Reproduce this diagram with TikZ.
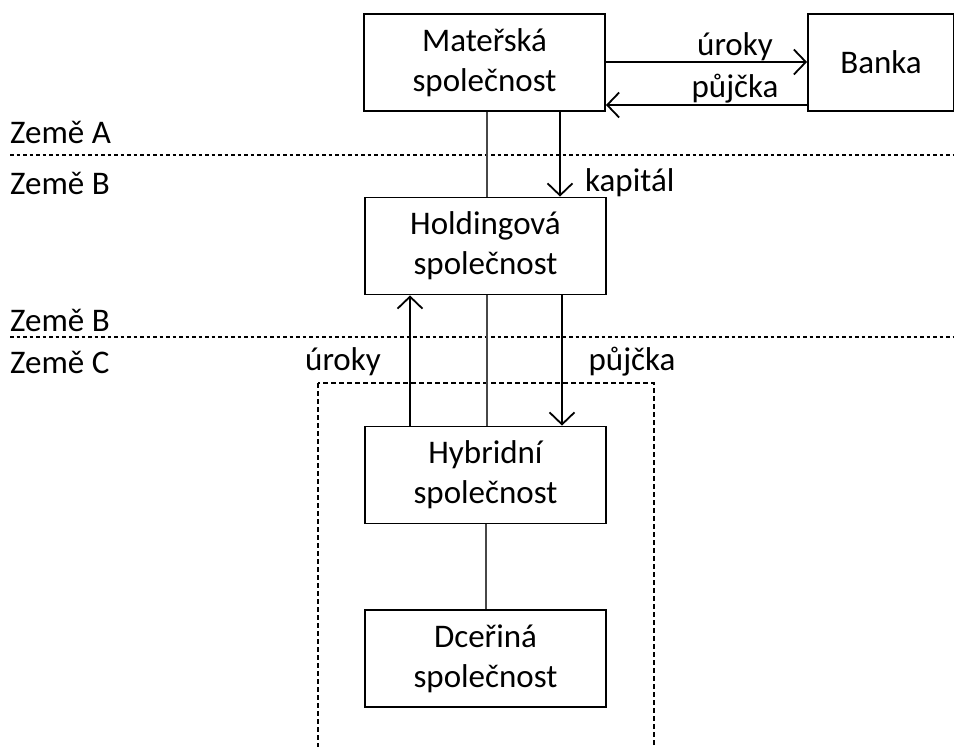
\documentclass[tikz,border=0pt]{standalone}
\usepackage{fontspec}
\setmainfont{Carlito}
\usetikzlibrary{arrows.meta}
\begin{document}
\begin{tikzpicture}[x=1pt,y=-1pt,
  box/.style={draw,line width=1.8pt,minimum width=241pt,minimum height=97pt,
    align=center,inner sep=0pt,font=\fontsize{33}{40}\selectfont},
  lbl/.style={font=\fontsize{33}{38}\selectfont,inner sep=0pt},
  flow/.style={line width=1.8pt,-{Straight Barb[length=12pt,width=25pt,line width=1.8pt]}},
  tie/.style={line width=2pt,draw=black!72},
  border/.style={line width=1.4pt,dash pattern=on 3.5pt off 3pt},
  frame/.style={line width=1.4pt,dash pattern=on 5pt off 3pt}]
  \useasboundingbox (0,0) rectangle (954,747);
  % country borders
  \coordinate (bAl) at (10,155); \coordinate (bAr) at (954,155);
  \coordinate (bBl) at (10,337); \coordinate (bBr) at (954,337);
  \draw[border] (bAl) -- (bAr);
  \draw[border] (bBl) -- (bBr);
  \node[lbl,anchor=west] (zA) at (10,132) {Země A};
  \node[lbl,anchor=west] (zB1) at (10,183) {Země B};
  \node[lbl,anchor=west] (zB2) at (10,320) {Země B};
  \node[lbl,anchor=west] (zC) at (10,362) {Země C};
  % entities
  \node[box] (mat) at (484.5,62.5) {Mateřská\\společnost};
  \node[box,minimum width=146pt] (bank) at (881,62.5) {Banka};
  \node[box] (hold) at (485.5,246) {Holdingová\\společnost};
  \node[box] (hyb) at (485.5,475) {Hybridní\\společnost};
  \node[box] (dcer) at (485.5,658.5) {Dceřiná\\společnost};
  % country C group
  \coordinate (gTL) at (318,383); \coordinate (gBR) at (654,760);
  \draw[frame] (gTL) rectangle (gBR);
  % flows with the bank
  \draw[flow] (mat.east |- 0,62) -- (bank.west |- 0,62);
  \draw[flow] (bank.west |- 0,105) -- (mat.east |- 0,105);
  \node[lbl] (lu1) at (735,47) {úroky};
  \node[lbl] (lp1) at (735,89) {půjčka};
  % parent to holding
  \draw[tie] (mat.south -| 487,0) -- (hold.north -| 487,0);
  \draw[flow] (mat.south -| 560,0) -- (hold.north -| 560,0);
  \node[lbl,anchor=west] (lk) at (585,183) {kapitál};
  % holding to hybrid
  \draw[flow] (hyb.north -| 410,0) -- (hold.south -| 410,0);
  \draw[tie] (hold.south -| 487,0) -- (hyb.north -| 487,0);
  \draw[flow] (hold.south -| 562,0) -- (hyb.north -| 562,0);
  \node[lbl] (lu2) at (343,362) {úroky};
  \node[lbl] (lp2) at (632,362) {půjčka};
  % hybrid to subsidiary
  \draw[tie] (hyb) -- (dcer);
\end{tikzpicture}
\end{document}
